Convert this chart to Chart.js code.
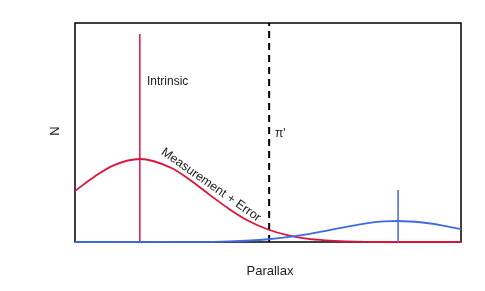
<!DOCTYPE html>
<html>
<head>
<meta charset="utf-8">
<script src="https://cdn.jsdelivr.net/npm/chart.js@4"></script>
<style>
  html, body { margin: 0; padding: 0; background: #fff; }
  #wrap { width: 485px; height: 291px; }
</style>
</head>
<body>
<div id="wrap"><canvas id="c" width="485" height="291"></canvas></div>
<script>
// --- data (x = parallax, y = N, both 0..1) ---
const redX = [0, 0.05, 0.10, 0.168, 0.25, 0.30, 0.35, 0.40, 0.45, 0.50, 0.55, 0.60, 0.65, 0.70, 0.80, 0.90, 1.0];
const redN = [0.233, 0.298, 0.350, 0.379, 0.338, 0.281, 0.214, 0.150, 0.096, 0.057, 0.031, 0.015, 0.007, 0.003, 0, 0, 0];

const blueX = [0, 0.30, 0.40, 0.50, 0.55, 0.60, 0.65, 0.70, 0.75, 0.80, 0.837, 0.90, 0.95, 1.0];
const blueN = [0, 0.0005, 0.003, 0.0125, 0.022, 0.035, 0.051, 0.068, 0.084, 0.094, 0.096, 0.089, 0.076, 0.059];

const intrinsicX = [0.168, 0.168];
const intrinsicN = [0, 0.95];
const blueSpikeX = [0.837, 0.837];
const blueSpikeN = [0, 0.237];
const piPrimeX = [0.503, 0.503];
const piPrimeN = [0, 1];

const RED = '#DC143C';
const BLUE = '#4169E1';
const FONT = "'Liberation Sans', Arial, sans-serif";

const pts = (xs, ys) => xs.map((x, i) => ({ x, y: ys[i] }));

// frame under the curves, text labels on top
const decor = {
    id: 'decor',
    beforeDatasetsDraw(chart) {
        const { ctx, chartArea: a } = chart;
        ctx.save();
        ctx.strokeStyle = '#000';
        ctx.lineWidth = 1.5;
        ctx.strokeRect(a.left, a.top, a.right - a.left, a.bottom - a.top);
        ctx.restore();
    },
    afterDatasetsDraw(chart) {
        const { ctx } = chart;
        ctx.save();
        ctx.fillStyle = '#222';
        ctx.font = '12px ' + FONT;
        ctx.textBaseline = 'middle';
        ctx.textAlign = 'left';
        ctx.fillText('Intrinsic', 147, 82);
        ctx.fillText("\u03c0'", 275, 134);

        ctx.textAlign = 'center';
        ctx.font = '13px ' + FONT;
        ctx.fillText('Parallax', 270, 271);

        ctx.save();
        ctx.translate(55, 131);
        ctx.rotate(-Math.PI / 2);
        ctx.fillText('N', 0, 0);
        ctx.restore();

        ctx.save();
        ctx.font = '12.5px ' + FONT;
        ctx.translate(211, 185);
        ctx.rotate(35 * Math.PI / 180);
        ctx.fillText('Measurement + Error', 0, 0);
        ctx.restore();
        ctx.restore();
    }
};

new Chart(document.getElementById('c').getContext('2d'), {
    type: 'line',
    data: {
        datasets: [
            { data: pts(blueX, blueN), borderColor: BLUE, borderWidth: 1.8, cubicInterpolationMode: 'monotone' },
            { data: pts(blueSpikeX, blueSpikeN), borderColor: BLUE, borderWidth: 1.5 },
            { data: pts(redX, redN), borderColor: RED, borderWidth: 1.8, cubicInterpolationMode: 'monotone' },
            { data: pts(intrinsicX, intrinsicN), borderColor: RED, borderWidth: 1.5 },
            { data: pts(piPrimeX, piPrimeN), borderColor: '#000', borderWidth: 2, borderDash: [7, 5] },
        ]
    },
    options: {
        responsive: false,
        animation: false,
        clip: false,
        elements: { point: { radius: 0 } },
        layout: { padding: { left: 75, top: 23, right: 24, bottom: 49 } },
        plugins: { legend: { display: false }, tooltip: { enabled: false } },
        scales: {
            x: { type: 'linear', min: 0, max: 1, display: false },
            y: { type: 'linear', min: 0, max: 1, display: false },
        }
    },
    plugins: [decor]
});
</script>
</body>
</html>
